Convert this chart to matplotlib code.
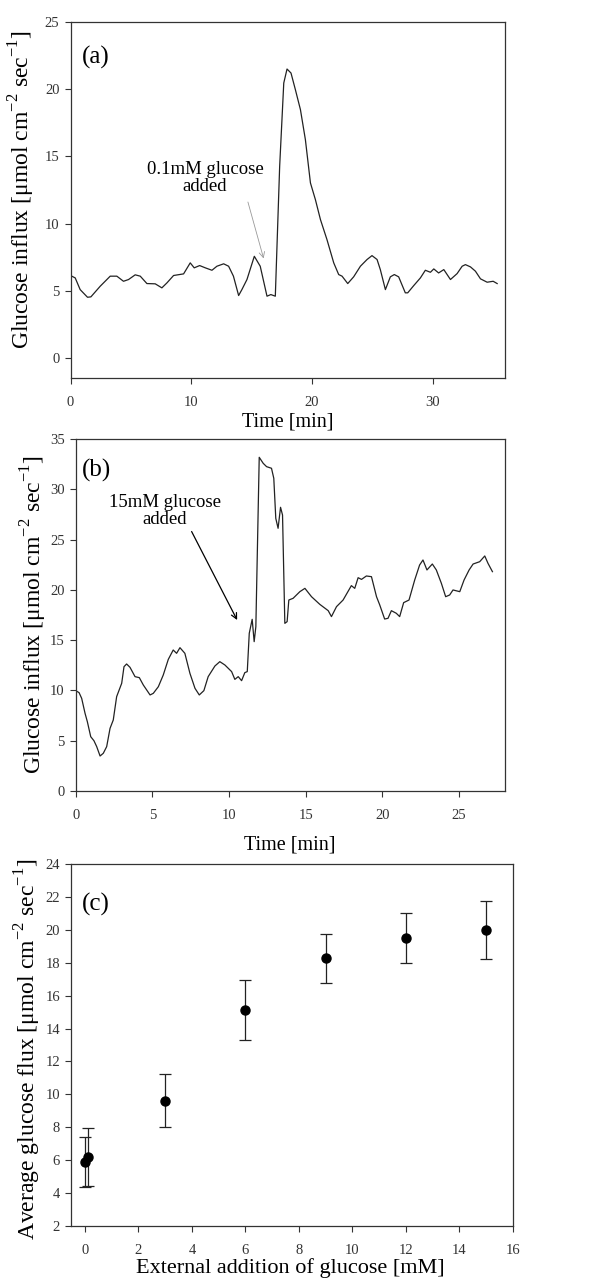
import matplotlib
matplotlib.use("Agg")
import matplotlib.pyplot as plt

plt.rcParams['font.family'] = ['Liberation Serif', 'DejaVu Serif']
plt.rcParams['mathtext.fontset'] = 'custom'
plt.rcParams['mathtext.rm'] = 'Liberation Serif'

# ---------------- data ----------------
time_a = [0, 0.39, 0.8, 1.41, 1.69, 2.46, 3.29, 3.84, 4.39, 4.81, 5.36, 5.78, 6.33, 7.02,
          7.57, 7.99, 8.54, 9.37, 9.92, 10.25, 10.7, 11.17, 11.72, 12.13, 12.69, 13.1, 13.5,
          13.93, 14.2, 14.62, 15.23, 15.72, 16.28, 16.6, 16.97, 17.33, 17.67, 17.94, 18.27,
          18.63, 19.05, 19.46, 19.88, 20.29, 20.71, 21.25, 21.81, 22.22, 22.5, 22.97, 23.46,
          24.02, 24.57, 24.98, 25.4, 25.67, 26.09, 26.5, 26.83, 27.19, 27.74, 27.94, 28.44,
          28.99, 29.4, 29.82, 30.1, 30.5, 30.93, 31.48, 32.03, 32.45, 32.72, 33.14, 33.55,
          33.97, 34.52, 35.02, 35.35]
flux_a = [6.13, 5.95, 5.08, 4.51, 4.54, 5.33, 6.08, 6.08, 5.7, 5.83, 6.18, 6.08, 5.53, 5.51,
          5.21, 5.58, 6.13, 6.25, 7.07, 6.7, 6.87, 6.7, 6.52, 6.82, 7.0, 6.82, 6.08,
          4.64, 5.08, 5.83, 7.56, 6.82, 4.59, 4.71, 4.59, 14.26, 20.46, 21.5, 21.2,
          19.97, 18.48, 16.25, 13.02, 11.78, 10.29, 8.8, 7.07, 6.2, 6.08, 5.53, 6.03,
          6.82, 7.32, 7.61, 7.32, 6.57, 5.08, 6.03, 6.2, 6.03, 4.84, 4.84, 5.38,
          5.95, 6.52, 6.37, 6.62, 6.32, 6.57, 5.83, 6.27, 6.82, 6.94, 6.77, 6.45,
          5.88, 5.63, 5.7, 5.53]

time_b = [0, 0.22, 0.39, 0.61, 0.76, 0.98, 1.19, 1.37, 1.59, 1.8, 2.02, 2.24, 2.45, 2.67,
          3.0, 3.15, 3.32, 3.54, 3.87, 4.15, 4.41, 4.85, 5.06, 5.39, 5.71, 6.04, 6.36, 6.58,
          6.8, 7.12, 7.45, 7.78, 8.06, 8.36, 8.64, 9.08, 9.4, 9.73, 10.17, 10.38, 10.6, 10.82,
          11.03, 11.19, 11.32, 11.51, 11.64, 11.75, 11.97, 12.23, 12.45, 12.77, 12.92, 13.05,
          13.2, 13.36, 13.49, 13.64, 13.79, 13.9, 14.18, 14.62, 14.95, 15.38, 15.92, 16.47,
          16.68, 17.01, 17.44, 17.98, 18.2, 18.42, 18.64, 18.96, 19.29, 19.62, 19.83, 20.15,
          20.37, 20.59, 20.91, 21.13, 21.39, 21.74, 22.11, 22.43, 22.65, 22.91, 23.26, 23.52,
          23.85, 24.13, 24.39, 24.61, 25.05, 25.33, 25.66, 25.92, 26.35, 26.68, 26.89, 27.18]
flux_b = [9.98, 9.78, 9.21, 7.72, 6.89, 5.4, 5.0, 4.41, 3.48, 3.75, 4.41, 6.23, 7.06, 9.38,
          10.71, 12.36, 12.63, 12.3, 11.37, 11.27, 10.54, 9.55, 9.71, 10.37, 11.53, 13.09, 14.02, 13.69,
          14.25, 13.69, 11.7, 10.21, 9.55, 9.98, 11.37, 12.43, 12.86, 12.53, 11.87, 11.1, 11.37, 10.97,
          11.77, 11.87, 15.68, 17.07, 14.85, 16.34, 33.18, 32.58, 32.25, 32.09, 31.09, 27.11,
          26.12, 28.21, 27.44, 16.67, 16.84, 18.99, 19.16, 19.82, 20.15, 19.32, 18.56, 17.93,
          17.34, 18.33, 18.99, 20.42, 20.15, 21.21, 21.04, 21.38, 21.31, 19.32, 18.5, 17.1,
          17.17, 17.93, 17.67, 17.34, 18.73, 18.99, 20.98, 22.47, 22.97, 21.98, 22.57, 21.98,
          20.65, 19.32, 19.49, 19.99, 19.82, 20.98, 21.98, 22.57, 22.8, 23.37, 22.64, 21.81]

glucose_c = [0, 0.1, 3, 6, 9, 12, 15]
avg_flux_c = [5.9, 6.2, 9.62, 15.1, 18.27, 19.5, 20.0]
err_c = [1.5, 1.75, 1.63, 1.82, 1.5, 1.5, 1.75]

label_a = "0.1mM glucose\nadded"
label_b = "15mM glucose\nadded"
ylab_ab = r"Glucose influx [μmol cm$^{-2}$ sec$^{-1}$]"
ylab_c = r"Average glucose flux [μmol cm$^{-2}$ sec$^{-1}$]"

# ---------------- figure ----------------
W, H = 613, 1288
fig = plt.figure(figsize=(W / 100, H / 100), dpi=100)


def axes_px(l, t, r, b):
    return fig.add_axes([l / W, 1 - b / H, (r - l) / W, (b - t) / H])


TICK_FS = 10.5
LINE_C = '#222222'


def style(ax):
    for s in ax.spines.values():
        s.set_color('#333333')
        s.set_linewidth(0.9)
    ax.tick_params(direction='out', length=4, width=0.8, colors='#333333',
                   labelsize=TICK_FS, top=False, right=False)
    ax.tick_params(axis='x', pad=9)
    ax.tick_params(axis='y', pad=4)


# Panel (a)
ax1 = axes_px(70.5, 22, 505, 378)
ax1.plot(time_a, flux_a, color=LINE_C, lw=0.9)
ax1.set_xlim(0, 36)
ax1.set_ylim(-1.5, 25)
ax1.set_xticks([0, 10, 20, 30])
ax1.set_yticks([0, 5, 10, 15, 20, 25])
style(ax1)
ax1.text(0.026, 0.90, "(a)", transform=ax1.transAxes, fontsize=18, ha='left', va='center')
ax1.annotate("", xy=(16.0, 7.4), xytext=(14.7, 11.6),
             arrowprops=dict(arrowstyle='->', color='#999999', lw=0.6, shrinkA=0, shrinkB=0))
ax1.text(11.15, 13.4, label_a, fontsize=13.5, ha='center', va='center', linespacing=1.0)
fig.text(288 / W, 1 - 422 / H, "Time [min]", fontsize=14.5, ha='center', va='center')
fig.text(22 / W, 1 - 190 / H, ylab_ab, fontsize=17, rotation=90, ha='center', va='center')

# Panel (b)
ax2 = axes_px(75.7, 439, 505, 791)
ax2.plot(time_b, flux_b, color=LINE_C, lw=0.9)
ax2.set_xlim(0, 28)
ax2.set_ylim(0, 35)
ax2.set_xticks([0, 5, 10, 15, 20, 25])
ax2.set_yticks([0, 5, 10, 15, 20, 25, 30, 35])
style(ax2)
ax2.text(0.015, 0.912, "(b)", transform=ax2.transAxes, fontsize=18, ha='left', va='center')
ax2.annotate("", xy=(10.53, 17.0), xytext=(7.56, 25.8),
             arrowprops=dict(arrowstyle='->', color='black', lw=0.9, shrinkA=0, shrinkB=0))
ax2.text(5.82, 27.8, label_b, fontsize=13.5, ha='center', va='center', linespacing=1.0)
fig.text(290 / W, 1 - 845 / H, "Time [min]", fontsize=14.5, ha='center', va='center')
fig.text(34 / W, 1 - 615 / H, ylab_ab, fontsize=17, rotation=90, ha='center', va='center')

# Panel (c)
ax3 = axes_px(71, 864, 513, 1226)
ax3.errorbar(glucose_c, avg_flux_c, yerr=err_c, fmt='o', color='black', ms=6.5,
             ecolor='#222222', elinewidth=0.9, capsize=4, capthick=0.9)
ax3.set_xlim(-0.52, 16)
ax3.set_ylim(2, 24)
ax3.set_xticks(range(0, 17, 2))
ax3.set_yticks(range(2, 25, 2))
style(ax3)
ax3.text(0.025, 0.887, "(c)", transform=ax3.transAxes, fontsize=18, ha='left', va='center')
fig.text(290 / W, 1 - 1268 / H, "External addition of glucose [mM]", fontsize=16,
         ha='center', va='center')
fig.text(28 / W, 1 - 1049 / H, ylab_c, fontsize=17, rotation=90, ha='center', va='center')

fig.savefig("out.png", dpi=100)
